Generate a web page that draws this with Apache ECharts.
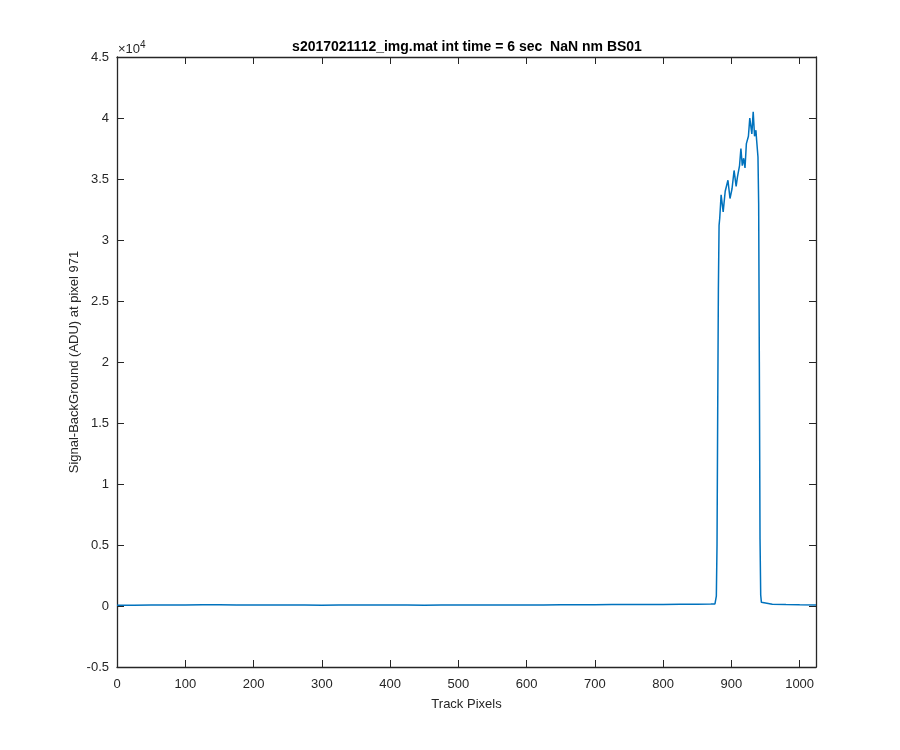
<!DOCTYPE html>
<html><head><meta charset="utf-8">
<script src="https://cdn.jsdelivr.net/npm/echarts@6/dist/echarts.min.js"></script>
<style>html,body{margin:0;padding:0;background:#fff}#c{width:900px;height:750px}</style>
</head><body><div id="c"></div>
<script>
// Track pixel positions (x) and signal values (ADU)
const trackPixels = [0,25,50,75,100,125,150,175,200,225,250,275,300,325,350,375,400,425,450,475,500,525,550,575,600,625,650,675,700,725,750,775,800,825,850,870,876,877,878,879,880,881,882,883,885,888,891,895,898,901,904,907,909,912,914,916,918,920,922,925,927,930,932,934,936,937,939,940,941,942,943,944,946,960,980,1000,1024];
const signalADU  = [60,70,80,75,90,95,100,90,85,80,75,80,70,75,80,85,80,75,70,80,75,85,80,90,85,90,95,100,110,115,120,125,130,140,150,160,170,250,800,5000,16000,26000,31200,31800,33700,32300,34000,34900,33400,34200,35700,34400,35200,36100,37500,36100,36700,35900,37900,38500,40000,38700,40500,38500,39000,38200,36800,33000,20000,5500,900,300,180,150,120,100,80];
const xTicks = [0,100,200,300,400,500,600,700,800,900,1000];
const yTicks = [-0.5,0,0.5,1,1.5,2,2.5,3,3.5,4,4.5];

const data = trackPixels.map((x,i)=>[x, signalADU[i]]);
const axCol = '#262626';
const chart = echarts.init(document.getElementById('c'));
const font = 'Liberation Sans, Arial, Helvetica, sans-serif';
const baseX = {
  type:'value', min:0, max:1024, interval:100,
  axisLine:{show:true,onZero:false,lineStyle:{color:axCol,width:1.3}},
  axisTick:{show:true,inside:true,length:7,lineStyle:{color:axCol,width:1}},
  splitLine:{show:false}
};
const baseY = {
  type:'value', min:-5000, max:45000, interval:5000,
  axisLine:{show:true,onZero:false,lineStyle:{color:axCol,width:1.3}},
  axisTick:{show:true,inside:true,length:7,lineStyle:{color:axCol,width:1}},
  splitLine:{show:false}
};
chart.setOption({
  animation:false,
  backgroundColor:'#fff',
  title:{text:'s2017021112_img.mat int time = 6 sec  NaN nm BS01', left:462, top:35, textAlign:'center',
    textStyle:{fontFamily:font,fontSize:14,fontWeight:'bold',color:'#000'}},
  grid:{left:117,right:84,top:57,bottom:83},
  xAxis:[
    Object.assign({}, baseX, {position:'bottom', name:'Track Pixels', nameLocation:'middle', nameGap:31,
      nameTextStyle:{fontFamily:font,fontSize:13,color:axCol},
      axisLabel:{fontFamily:font,fontSize:13,color:axCol,margin:11,
        formatter:v=> (xTicks.indexOf(v)>=0 ? String(v) : '')}}),
    Object.assign({}, baseX, {position:'top', axisLabel:{show:false}})
  ],
  yAxis:[
    Object.assign({}, baseY, {position:'left', name:'Signal-BackGround (ADU) at pixel 971', nameLocation:'middle', nameGap:36,
      nameMoveOverlap:false,
      nameTextStyle:{fontFamily:font,fontSize:13,color:axCol},
      axisLabel:{fontFamily:font,fontSize:13,color:axCol,margin:8,
        formatter:v=>{const t=Math.round(v/1000)/10; return yTicks.indexOf(t)>=0? String(t):'';}}}),
    Object.assign({}, baseY, {position:'right', axisLabel:{show:false}})
  ],
  graphic:[{type:'text', left:118, top:40, style:{
    text:'{a|×10}{b|4}', rich:{a:{fontFamily:font,fontSize:13,fill:axCol},b:{fontFamily:font,fontSize:10,fill:axCol,verticalAlign:'top',padding:[0,0,8,0]}}
  }}],
  series:[{type:'line', data:data, showSymbol:false, symbol:'none',
    lineStyle:{color:'#0072BD',width:1.5}, xAxisIndex:0, yAxisIndex:0}]
});
</script></body></html>
